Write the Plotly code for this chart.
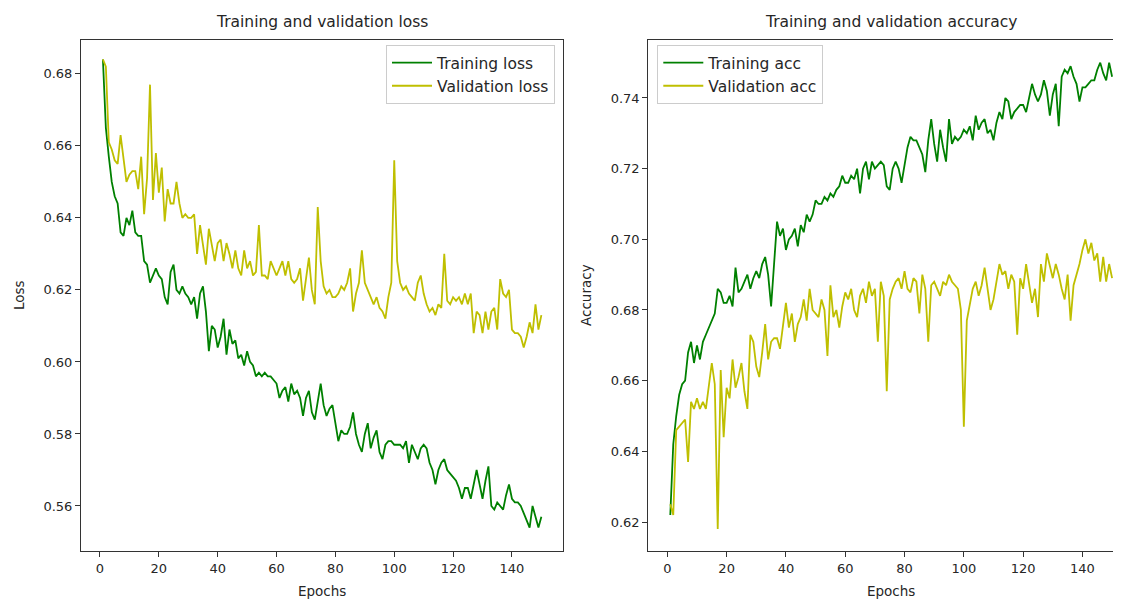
import plotly.graph_objects as go

epochs = list(range(1, 151))

train_loss = [
    0.684, 0.665, 0.657, 0.650, 0.646, 0.644, 0.636, 0.635, 0.640, 0.638,
    0.642, 0.636, 0.635, 0.635, 0.628, 0.627, 0.622, 0.624, 0.626, 0.624,
    0.623, 0.618, 0.616, 0.625, 0.627, 0.620, 0.619, 0.621, 0.619, 0.618,
    0.616, 0.618, 0.612, 0.619, 0.621, 0.614, 0.603, 0.610, 0.609, 0.604,
    0.607, 0.612, 0.602, 0.609, 0.605, 0.606, 0.601, 0.602, 0.599, 0.603,
    0.600, 0.599, 0.596, 0.597, 0.596, 0.597, 0.596, 0.596, 0.595, 0.594,
    0.590, 0.592, 0.593, 0.589, 0.594, 0.591, 0.592, 0.590, 0.585, 0.590,
    0.592, 0.586, 0.584, 0.589, 0.594, 0.588, 0.585, 0.587, 0.588, 0.583,
    0.578, 0.581, 0.580, 0.580, 0.582, 0.586, 0.580, 0.577, 0.575, 0.580,
    0.583, 0.576, 0.579, 0.581, 0.575, 0.573, 0.577, 0.578, 0.578, 0.577,
    0.577, 0.577, 0.576, 0.578, 0.572, 0.577, 0.575, 0.573, 0.576, 0.577,
    0.576, 0.572, 0.570, 0.566, 0.570, 0.572, 0.573, 0.570, 0.569, 0.568,
    0.567, 0.565, 0.562, 0.565, 0.565, 0.562, 0.566, 0.570, 0.566, 0.562,
    0.567, 0.571, 0.560, 0.559, 0.561, 0.560, 0.559, 0.563, 0.566, 0.562,
    0.561, 0.561, 0.560, 0.558, 0.556, 0.554, 0.560, 0.557, 0.554, 0.557,
]

val_loss = [
    0.684, 0.682, 0.661, 0.659, 0.656, 0.655, 0.663, 0.656, 0.650, 0.652,
    0.653, 0.653, 0.648, 0.657, 0.641, 0.651, 0.677, 0.645, 0.658, 0.647,
    0.654, 0.639, 0.648, 0.644, 0.644, 0.650, 0.644, 0.640, 0.641, 0.640,
    0.640, 0.641, 0.630, 0.638, 0.632, 0.627, 0.637, 0.632, 0.628, 0.633,
    0.634, 0.628, 0.633, 0.630, 0.626, 0.631, 0.626, 0.624, 0.631, 0.626,
    0.628, 0.624, 0.625, 0.638, 0.624, 0.624, 0.623, 0.628, 0.626, 0.624,
    0.626, 0.628, 0.624, 0.628, 0.623, 0.622, 0.623, 0.626, 0.617, 0.623,
    0.629, 0.620, 0.616, 0.643, 0.628, 0.621, 0.619, 0.620, 0.618, 0.618,
    0.619, 0.621, 0.620, 0.622, 0.626, 0.614, 0.619, 0.622, 0.631, 0.622,
    0.620, 0.618, 0.616, 0.618, 0.615, 0.614, 0.612, 0.618, 0.622, 0.656,
    0.628, 0.622, 0.620, 0.621, 0.619, 0.618, 0.617, 0.622, 0.624, 0.619,
    0.616, 0.614, 0.615, 0.613, 0.616, 0.615, 0.630, 0.617, 0.616, 0.618,
    0.617, 0.618, 0.616, 0.619, 0.616, 0.619, 0.608, 0.614, 0.613, 0.608,
    0.614, 0.609, 0.614, 0.615, 0.609, 0.623, 0.619, 0.618, 0.620, 0.609,
    0.608, 0.608, 0.607, 0.604, 0.607, 0.611, 0.608, 0.616, 0.609, 0.613,
]

train_acc = [
    0.622, 0.642, 0.650, 0.656, 0.659, 0.660, 0.668, 0.671, 0.665, 0.670,
    0.666, 0.671, 0.673, 0.675, 0.677, 0.679, 0.686, 0.685, 0.682, 0.682,
    0.684, 0.681, 0.692, 0.685, 0.686, 0.688, 0.690, 0.686, 0.689, 0.691,
    0.689, 0.693, 0.695, 0.690, 0.681, 0.693, 0.705, 0.701, 0.703, 0.697,
    0.700, 0.701, 0.703, 0.698, 0.704, 0.702, 0.707, 0.705, 0.707, 0.711,
    0.710, 0.710, 0.712, 0.711, 0.713, 0.712, 0.714, 0.715, 0.718, 0.716,
    0.716, 0.718, 0.717, 0.720, 0.713, 0.720, 0.722, 0.717, 0.722, 0.720,
    0.721, 0.722, 0.721, 0.715, 0.714, 0.720, 0.722, 0.720, 0.716, 0.721,
    0.726, 0.729, 0.728, 0.728, 0.726, 0.724, 0.719, 0.728, 0.734, 0.727,
    0.722, 0.731, 0.726, 0.722, 0.734, 0.727, 0.729, 0.728, 0.729, 0.731,
    0.730, 0.732, 0.728, 0.735, 0.731, 0.733, 0.734, 0.730, 0.731, 0.728,
    0.733, 0.736, 0.734, 0.740, 0.739, 0.734, 0.736, 0.737, 0.738, 0.738,
    0.736, 0.740, 0.744, 0.741, 0.739, 0.741, 0.745, 0.742, 0.735, 0.741,
    0.744, 0.732, 0.746, 0.748, 0.747, 0.749, 0.746, 0.744, 0.739, 0.743,
    0.743, 0.744, 0.745, 0.745, 0.748, 0.750, 0.747, 0.745, 0.750, 0.746,
]

val_acc = [
    0.625, 0.622, 0.646, 0.647, 0.648, 0.649, 0.637, 0.654, 0.652, 0.655,
    0.652, 0.654, 0.652, 0.658, 0.665, 0.659, 0.618, 0.663, 0.644, 0.658,
    0.655, 0.666, 0.658, 0.661, 0.665, 0.657, 0.652, 0.673, 0.671, 0.664,
    0.661, 0.668, 0.676, 0.666, 0.671, 0.672, 0.672, 0.669, 0.675, 0.682,
    0.675, 0.679, 0.671, 0.676, 0.678, 0.683, 0.677, 0.686, 0.680, 0.679,
    0.678, 0.683, 0.680, 0.667, 0.687, 0.678, 0.680, 0.675, 0.681, 0.685,
    0.683, 0.686, 0.680, 0.678, 0.684, 0.686, 0.682, 0.688, 0.684, 0.686,
    0.671, 0.688, 0.684, 0.657, 0.683, 0.686, 0.688, 0.689, 0.686, 0.691,
    0.686, 0.685, 0.689, 0.688, 0.679, 0.690, 0.686, 0.671, 0.687, 0.688,
    0.686, 0.684, 0.688, 0.687, 0.690, 0.688, 0.687, 0.686, 0.680, 0.647,
    0.677, 0.681, 0.686, 0.688, 0.684, 0.687, 0.692, 0.686, 0.680, 0.683,
    0.688, 0.693, 0.690, 0.691, 0.686, 0.690, 0.688, 0.673, 0.689, 0.686,
    0.693, 0.688, 0.682, 0.686, 0.678, 0.693, 0.688, 0.696, 0.692, 0.689,
    0.693, 0.690, 0.686, 0.683, 0.690, 0.677, 0.687, 0.690, 0.693, 0.697,
    0.700, 0.696, 0.699, 0.694, 0.696, 0.688, 0.695, 0.688, 0.693, 0.689,
]

x_ticks = [0, 20, 40, 60, 80, 100, 120, 140]
loss_ticks = [0.56, 0.58, 0.60, 0.62, 0.64, 0.66, 0.68]
acc_ticks = [0.62, 0.64, 0.66, 0.68, 0.70, 0.72, 0.74]

GREEN = "#008000"
YELLOW = "#bfbf00"
FONT = "DejaVu Sans"
TXT = "#262626"

# page body has an 8px margin; figure is sized so it fills the 1121x601 window
OFF = 8
W, H = 1121 - OFF, 601 - OFF


def px(x):
    return (x - OFF) / W


def py(y):
    return 1 - (y - OFF) / H


fig = go.Figure()
fig.add_trace(go.Scatter(x=epochs, y=train_loss, mode="lines", name="Training loss",
                         line=dict(color=GREEN, width=1.8), xaxis="x", yaxis="y", legend="legend"))
fig.add_trace(go.Scatter(x=epochs, y=val_loss, mode="lines", name="Validation loss",
                         line=dict(color=YELLOW, width=1.8), xaxis="x", yaxis="y", legend="legend"))
fig.add_trace(go.Scatter(x=epochs, y=train_acc, mode="lines", name="Training acc",
                         line=dict(color=GREEN, width=1.8), xaxis="x2", yaxis="y2", legend="legend2"))
fig.add_trace(go.Scatter(x=epochs, y=val_acc, mode="lines", name="Validation acc",
                         line=dict(color=YELLOW, width=1.8), xaxis="x2", yaxis="y2", legend="legend2"))

ydom = [py(551), py(40)]
axis_common = dict(showgrid=False, zeroline=False, showline=True, linecolor="#333333",
                   linewidth=1, ticks="outside", ticklen=5, tickcolor="#333333",
                   tickfont=dict(family=FONT, size=13, color=TXT))

legend_common = dict(yanchor="top", bgcolor="white", bordercolor="#cccccc", borderwidth=1,
                     itemwidth=40, font=dict(family=FONT, size=15.5, color=TXT))

fig.update_layout(
    width=W, height=H,
    margin=dict(l=0, r=0, t=0, b=0),
    paper_bgcolor="white", plot_bgcolor="white",
    font=dict(family=FONT, color=TXT),
    xaxis=dict(domain=[px(81), px(563.3)], range=[-6.45, 157.45], tickvals=x_ticks,
               anchor="y", mirror=True, **axis_common),
    yaxis=dict(domain=ydom, range=[0.5475, 0.6894], tickvals=loss_ticks,
               tickformat=".2f", anchor="x", mirror=True, **axis_common),
    xaxis2=dict(domain=[px(648.2), 1.0], range=[-6.45, 153.0], tickvals=x_ticks,
                anchor="y2", mirror=True, **axis_common),
    yaxis2=dict(domain=ydom, range=[0.6118, 0.7564], tickvals=acc_ticks,
                tickformat=".2f", anchor="x2", mirror=False, **axis_common),
    legend=dict(x=px(555), y=py(45), xanchor="right", **legend_common),
    legend2=dict(x=px(657.3), y=py(45), xanchor="left", **legend_common),
    annotations=[
        dict(text="Training and validation loss", x=px(322), y=py(22), xref="paper", yref="paper",
             showarrow=False, xanchor="center", yanchor="middle", font=dict(family=FONT, size=15.5, color=TXT)),
        dict(text="Training and validation accuracy", x=px(890.5), y=py(22), xref="paper", yref="paper",
             showarrow=False, xanchor="center", yanchor="middle", font=dict(family=FONT, size=15.5, color=TXT)),
        dict(text="Epochs", x=px(322), y=py(591), xref="paper", yref="paper",
             showarrow=False, xanchor="center", yanchor="middle", font=dict(family=FONT, size=13.5, color=TXT)),
        dict(text="Epochs", x=px(890.5), y=py(591), xref="paper", yref="paper",
             showarrow=False, xanchor="center", yanchor="middle", font=dict(family=FONT, size=13.5, color=TXT)),
        dict(text="Loss", x=px(19), y=py(295), xref="paper", yref="paper", textangle=-90,
             showarrow=False, xanchor="center", yanchor="middle", font=dict(family=FONT, size=13.5, color=TXT)),
        dict(text="Accuracy", x=px(586), y=py(295), xref="paper", yref="paper", textangle=-90,
             showarrow=False, xanchor="center", yanchor="middle", font=dict(family=FONT, size=13.5, color=TXT)),
    ],
)

fig.write_html("out.html")
